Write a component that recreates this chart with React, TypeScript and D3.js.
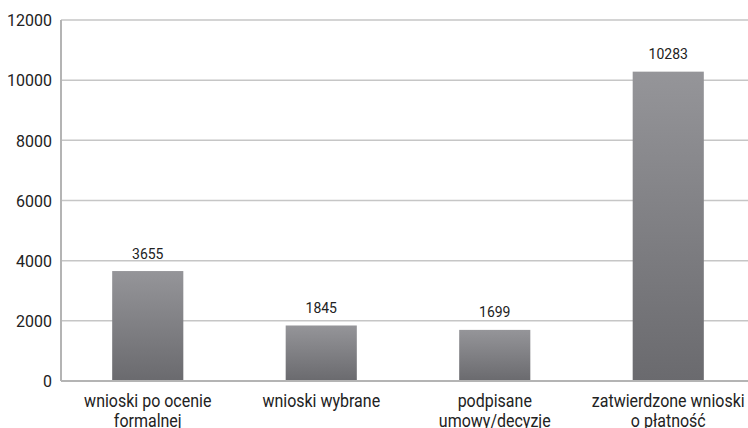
import { useMemo } from "react"
import { scaleBand, scaleLinear } from "d3"

const categories = [
  ["wnioski po ocenie", "formalnej"],
  ["wnioski wybrane"],
  ["podpisane", "umowy/decyzje"],
  ["zatwierdzone wnioski", "o płatność"],
]
const values = [3655, 1845, 1699, 10283]
const yTicks = [0, 2000, 4000, 6000, 8000, 10000, 12000]

const W = 748
const H = 428
const margin = { top: 20, right: -7, bottom: 47, left: 61 }
const font = "Roboto, 'Noto Sans', sans-serif"

export default function App() {
  const keys = categories.map((c) => c.join(" "))
  const x = useMemo(
    () => scaleBand().domain(keys).range([margin.left, W - margin.right]).paddingInner(0.59).paddingOuter(0.295),
    []
  )
  const y = useMemo(
    () => scaleLinear().domain([0, 12000]).range([H - margin.bottom, margin.top]),
    []
  )

  return (
    <svg width={W} height={H} style={{ position: "absolute", left: 0, top: 0, background: "#fff" }}>
      <defs>
        <linearGradient id="barGrad" x1="0" y1="0" x2="0" y2="1">
          <stop offset="0%" stopColor="#959599" />
          <stop offset="100%" stopColor="#6a6a6e" />
        </linearGradient>
      </defs>
      {yTicks.map((t) => (
        <g key={t}>
          {t > 0 && (
            <line x1={margin.left} x2={W} y1={y(t)} y2={y(t)} stroke="#c6c6c6" strokeWidth={1.5} />
          )}
          <text
            transform={`translate(52, ${y(t) + 6.2}) scale(1, 1.08)`}
            textAnchor="end"
            fontFamily={font}
            fontSize={16}
            fill="#222"
          >
            {t}
          </text>
        </g>
      ))}
      {values.map((v, i) => (
        <g key={keys[i]}>
          <rect
            x={x(keys[i])}
            y={y(v)}
            width={x.bandwidth()}
            height={y(0) - y(v)}
            fill="url(#barGrad)"
          />
          <text
            transform={`translate(${x(keys[i])! + x.bandwidth() / 2}, ${y(v) - 12.5}) scale(1, 1.1)`}
            textAnchor="middle"
            fontFamily={font}
            fontSize={14}
            fill="#222"
          >
            {v}
          </text>
        </g>
      ))}
      <line x1={margin.left} x2={margin.left} y1={y(12000)} y2={y(0)} stroke="#b4b4b4" strokeWidth={2} />
      <line x1={margin.left} x2={W} y1={y(0)} y2={y(0)} stroke="#b4b4b4" strokeWidth={2} />
      {categories.map((lines, i) =>
        lines.map((l, j) => (
          <text
            key={keys[i] + j}
            transform={`translate(${x(keys[i])! + x.bandwidth() / 2}, ${407 + j * 19.5}) scale(1, 1.2)`}
            textAnchor="middle"
            fontFamily={font}
            fontSize={16}
            fill="#222"
          >
            {l}
          </text>
        ))
      )}
    </svg>
  )
}
